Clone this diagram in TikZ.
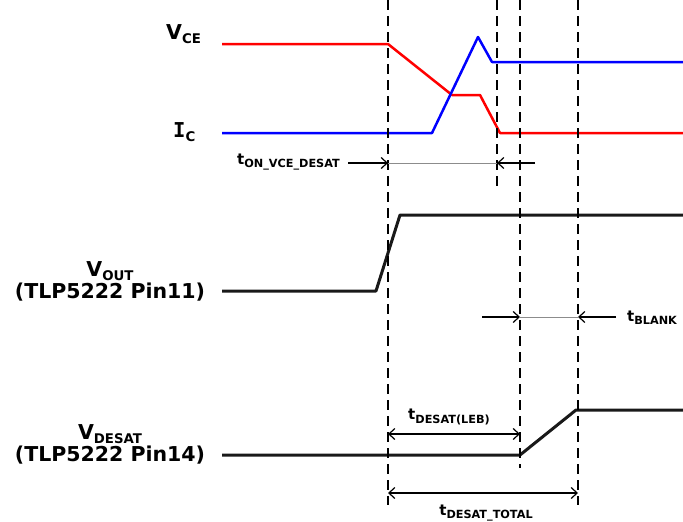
\documentclass[tikz,border=0pt]{standalone}
\usepackage{fontspec}
\setmainfont{DejaVu Sans}
\newfontfamily\barfont{DejaVu Sans Mono}
\usetikzlibrary{arrows.meta,positioning}
\newcommand{\lowsub}[2][0.65]{\raisebox{-0.22em}{\scalebox{#1}{#2}}}

\begin{document}
\begin{tikzpicture}[x=1pt,y=-1pt,>={Straight Barb[length=6pt,width=11pt]},
  lbl/.style={font=\bfseries\fontsize{20.5}{22}\selectfont,align=center,inner sep=0pt},
  tlbl/.style={font=\bfseries\fontsize{15}{17}\selectfont,inner sep=0pt},
  wave/.style={line width=2.5pt,line join=round},
  sig/.style={line width=3pt,line join=round,black!90},
  guide/.style={line width=2pt,dash pattern=on 10pt off 6pt},
  dimarrow/.style={line width=1.2pt},
  spanline/.style={black!45,line width=1pt}]
\useasboundingbox (0,0) rectangle (683,522);

% waveforms
\draw[wave,red] (222,44) -- (388,44) -- (452,95) -- (480,95) -- (500,133) -- (683,133);
\draw[wave,blue] (222,133) -- (432,133) -- (478,37) -- (492,62) -- (683,62);
\draw[sig] (222,291) -- (376,291) -- (400,215) -- (683,215);
\draw[sig] (222,455) -- (520,455) -- (576,410) -- (683,410);

% signal names
\node[lbl,anchor=base west] (vce) at (166,39) {V\lowsub{CE}};
\node[lbl,anchor=base west] (ic) at (173,137) {{\barfont I}\lowsub{C}};
\node[lbl] (vout) at (110,281) {V\lowsub{OUT}\\(TLP5222 Pin11)};
\node[lbl] (vdesat) at (110,444) {V\lowsub{DESAT}\\(TLP5222 Pin14)};

% timing guides
\coordinate (ga) at (388,0);  \coordinate (gaend) at (388,505);
\coordinate (gb) at (497,0);  \coordinate (gbend) at (497,187);
\coordinate (gc) at (520,0);  \coordinate (gcend) at (520,468);
\coordinate (gd) at (578,0);  \coordinate (gdend) at (578,505);
\foreach \g in {a,b,c,d}
  \draw[guide] (g\g) -- (g\g end);

% t_ON_VCE_DESAT
\coordinate (on1) at (388,163);
\coordinate (on2) at (497,163);
\coordinate (onin) at (348,163);
\coordinate (onout) at (535,163);
\node[tlbl,anchor=east] (ton) at (340,162) {t\lowsub[0.75]{ON\_VCE\_DESAT}};
\draw[->,dimarrow] (onin) -- (on1);
\draw[spanline] (on1) -- (on2);
\draw[->,dimarrow] (onout) -- (on2);

% t_BLANK
\coordinate (bl1) at (520,317);
\coordinate (bl2) at (578,317);
\coordinate (blin) at (482,317);
\coordinate (blout) at (616,317);
\node[tlbl,anchor=west] (tblank) at (627,318) {t\lowsub[0.75]{BLANK}};
\draw[->,dimarrow] (blin) -- (bl1);
\draw[spanline] (bl1) -- (bl2);
\draw[->,dimarrow] (blout) -- (bl2);

% t_DESAT(LEB) and t_DESAT_TOTAL
\coordinate (leb1) at (388,434);
\coordinate (leb2) at (520,434);
\draw[<->,dimarrow] (leb1) -- (leb2);
\node[tlbl] (tleb) at (449,417) {t\lowsub[0.75]{DESAT(LEB)}};
\coordinate (tot1) at (388,493);
\coordinate (tot2) at (578,493);
\draw[<->,dimarrow] (tot1) -- (tot2);
\node[tlbl] (ttot) at (486,513) {t\lowsub[0.75]{DESAT\_TOTAL}};
\end{tikzpicture}
\end{document}
